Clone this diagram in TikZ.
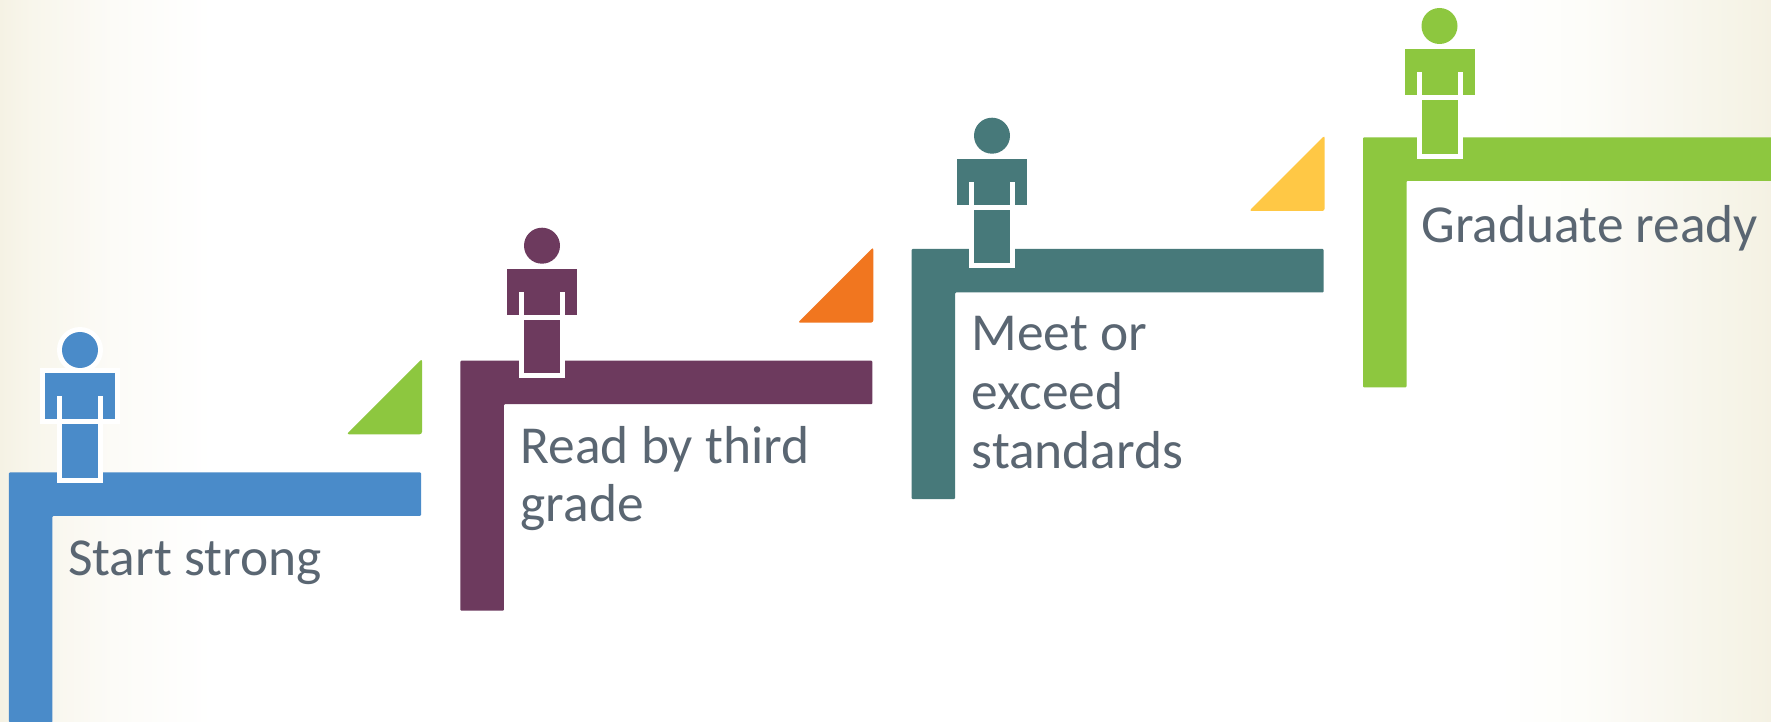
\documentclass[tikz,border=0pt]{standalone}
\usepackage{fontspec}
\setmainfont{Carlito}
\definecolor{stepblue}{HTML}{4A8BC9}
\definecolor{stepmaroon}{HTML}{6D3A5E}
\definecolor{stepteal}{HTML}{47797A}
\definecolor{stepgreen}{HTML}{8DC73F}
\definecolor{triorange}{HTML}{F1761F}
\definecolor{triyellow}{HTML}{FFC845}
\definecolor{labelgray}{HTML}{5A6672}
\pgfdeclarehorizontalshading{edgefade}{100bp}{
  rgb(0bp)=(.961,.949,.894); rgb(25bp)=(.961,.949,.894); rgb(25.93bp)=(.973,.965,.925);
  rgb(28.2bp)=(.988,.984,.969); rgb(31bp)=(1,1,1); rgb(67.3bp)=(1,1,1);
  rgb(69.7bp)=(.992,.992,.976); rgb(70.65bp)=(.984,.98,.961); rgb(73.84bp)=(.965,.957,.91);
  rgb(75bp)=(.957,.945,.89); rgb(100bp)=(.957,.945,.89)}
\tikzset{
  steplabel/.style={anchor=base west, inner sep=0pt, align=left, text=labelgray,
    font=\fontsize{15.2}{16.7}\selectfont},
  person/.pic={
    % contorno branco
    \fill[white] (0.71,1.22) circle (0.23);
    \fill[white] (0.31,0.477) rectangle (1.11,1.037);
    % tronco
    \fill[#1] (0.36,0.53) rectangle (1.06,0.987);
    \fill[white] (0.48,0.53) rectangle (0.53,0.76);
    \fill[white] (0.89,0.53) rectangle (0.94,0.76);
    % cabeca e pernas
    \fill[#1] (0.71,1.22) circle (0.18);
    \fill[white] (0.48,-0.107) rectangle (0.94,0.53);
    \fill[#1] (0.53,-0.057) rectangle (0.89,0.477);
  },
  stepbar/.pic={
    \fill[#1, rounded corners=0.01cm] (0,0) -- (4.12,0) -- (4.12,-0.435) -- (0.435,-0.435)
      -- (0.435,-2.5) -- (0,-2.5) -- cycle;
  },
  corner/.pic={
    \fill[#1, rounded corners=0.025cm] (4.13,1.135) -- (4.13,0.38) -- (3.375,0.38) -- cycle;
  }
}
\begin{document}
\begin{tikzpicture}
  \useasboundingbox (0,0) rectangle (17.71,7.21);
  \clip (0,0) rectangle (17.71,7.21);

  % Fundo
  \shade[shading=edgefade] (0,0) rectangle (17.71,7.21);

  % Degrau 1
  \pic at (0.09,2.487) {stepbar=stepblue};
  \pic at (0.09,2.487) {corner=stepgreen};
  \pic at (0.09,2.49) {person=stepblue};
  \node[steplabel] (start) at (0.675,1.46) {Start strong};

  % Degrau 2
  \pic at (4.603,3.603) {stepbar=stepmaroon};
  \pic at (4.603,3.603) {corner=triorange};
  \pic at (4.71,3.533) {person=stepmaroon};
  \node[steplabel] (read) at (5.20,1.993) {Read by third\\grade};

  % Degrau 3
  \pic at (9.117,4.72) {stepbar=stepteal};
  \pic at (9.117,4.72) {corner=triyellow};
  \pic at (9.21,4.633) {person=stepteal};
  \node[steplabel] (meet) at (9.71,2.527) {Meet or\\exceed\\standards};

  % Degrau 4
  \pic at (13.63,5.837) {stepbar=stepgreen};
  \pic at (13.685,5.73) {person=stepgreen};
  \node[steplabel] (grad) at (14.21,4.78) {Graduate ready};
\end{tikzpicture}
\end{document}
